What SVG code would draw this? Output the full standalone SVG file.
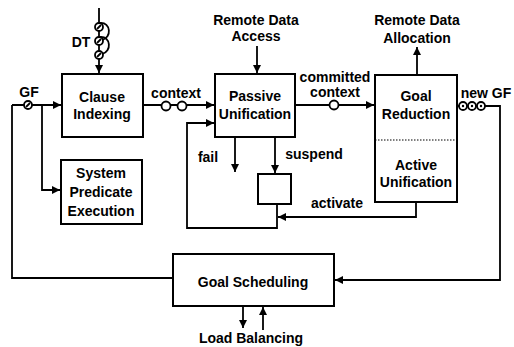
<svg xmlns="http://www.w3.org/2000/svg" width="514" height="347" viewBox="0 0 514 347">
<defs>
<style>
.box{fill:#fff;stroke:#000;stroke-width:2}
.ln{fill:none;stroke:#000;stroke-width:1.8}
.t{font-family:"Liberation Sans",Arial,sans-serif;font-size:14px;font-weight:bold;fill:#000;text-anchor:middle}
.c{fill:#fff;stroke:#000;stroke-width:1.8}
</style>
<marker id="arr" viewBox="0 0 10 10" refX="10" refY="5" markerWidth="9" markerHeight="8" orient="auto" markerUnits="userSpaceOnUse"><path d="M0,0 L10,5 L0,10 z" fill="#000"/></marker>
</defs>
<rect width="514" height="347" fill="#fff"/>
<g id="connectors">
<path class="ln" d="M99,8 V73" marker-end="url(#arr)"/>
<path class="ln" d="M100,23 C111,22 112,38 102,40"/>
<path class="ln" d="M100,37 C111,36 112,52 102,54"/>
<circle class="c" cx="99" cy="27" r="4"/>
<circle class="c" cx="99" cy="41" r="4"/>
<circle class="c" cx="99" cy="55" r="4"/>
<path class="ln" d="M97,29 L101,25 M97,43 L101,39 M97,57 L101,53" stroke-width="1.2"/>
<path class="ln" d="M12,105 H61" marker-end="url(#arr)"/>
<path class="ln" d="M42,105 V190 H60" marker-end="url(#arr)"/>
<path class="ln" d="M12,105 V278 H173"/>
<circle class="c" cx="28" cy="105" r="4" stroke-width="2.4"/>
<path class="ln" d="M26,107 L30,103" stroke-width="1.4"/>
<path class="ln" d="M143,105 H214" marker-end="url(#arr)"/>
<circle class="c" cx="166" cy="106" r="4.5"/>
<circle class="c" cx="182" cy="106" r="4.5"/>
<path class="ln" d="M257,46 V73" marker-end="url(#arr)"/>
<path class="ln" d="M295,105 H374" marker-end="url(#arr)"/>
<circle class="c" cx="334" cy="105" r="4.5"/>
<path class="ln" d="M417,75 V47" marker-end="url(#arr)"/>
<path class="ln" d="M457,106 H500 V280 H335" marker-end="url(#arr)"/>
<circle class="c" cx="463" cy="106" r="4"/>
<circle class="c" cx="472" cy="106" r="4"/>
<circle class="c" cx="481" cy="106" r="4"/>
<circle cx="463" cy="106" r="1.2"/>
<circle cx="472" cy="106" r="1.2"/>
<circle cx="481" cy="106" r="1.2"/>
<path class="ln" d="M235,137 V172" marker-end="url(#arr)"/>
<path class="ln" d="M275,137 V173" marker-end="url(#arr)"/>
<path class="ln" d="M277,204 V228 H187 V123 H214" marker-end="url(#arr)"/>
<path class="ln" d="M416,202 V217 H278" marker-end="url(#arr)"/>
<path class="ln" d="M243,306 V328" marker-end="url(#arr)"/>
<path class="ln" d="M263,330 V307" marker-end="url(#arr)"/>
</g>
<g id="clause-indexing">
<rect class="box" x="62" y="74" width="81" height="63"/>
<text class="t" x="102" y="102">Clause</text>
<text class="t" x="102" y="119">Indexing</text>
</g>
<g id="system-predicate">
<rect class="box" x="61" y="160" width="81" height="64"/>
<text class="t" x="101" y="178">System</text>
<text class="t" x="101" y="197">Predicate</text>
<text class="t" x="101" y="216">Execution</text>
</g>
<g id="passive-unification">
<rect class="box" x="215" y="74" width="80" height="63"/>
<text class="t" x="255" y="101">Passive</text>
<text class="t" x="255" y="119">Unification</text>
</g>
<g id="goal-reduction">
<rect class="box" x="375" y="75" width="82" height="127"/>
<line x1="375" y1="140" x2="457" y2="140" stroke="#000" stroke-width="1.2" stroke-dasharray="1.5,1.5"/>
<text class="t" x="416" y="101">Goal</text>
<text class="t" x="416" y="119">Reduction</text>
<text class="t" x="416" y="170">Active</text>
<text class="t" x="416" y="187">Unification</text>
</g>
<g id="suspend-box">
<rect class="box" x="258" y="174" width="33" height="30"/>
</g>
<g id="goal-scheduling">
<rect class="box" x="173" y="254" width="161" height="52"/>
<text class="t" x="253" y="287">Goal Scheduling</text>
</g>
<g id="labels">
<text class="t" x="81" y="47">DT</text>
<text class="t" x="29" y="97">GF</text>
<text class="t" x="176" y="98">context</text>
<text class="t" x="256" y="25">Remote Data</text>
<text class="t" x="256" y="41">Access</text>
<text class="t" x="335" y="82">committed</text>
<text class="t" x="335" y="97">context</text>
<text class="t" x="417" y="25">Remote Data</text>
<text class="t" x="417" y="43">Allocation</text>
<text class="t" x="486" y="98">new GF</text>
<text class="t" x="208" y="162">fail</text>
<text class="t" x="314" y="159">suspend</text>
<text class="t" x="337" y="208">activate</text>
<text class="t" x="251" y="343">Load Balancing</text>
</g>
</svg>
